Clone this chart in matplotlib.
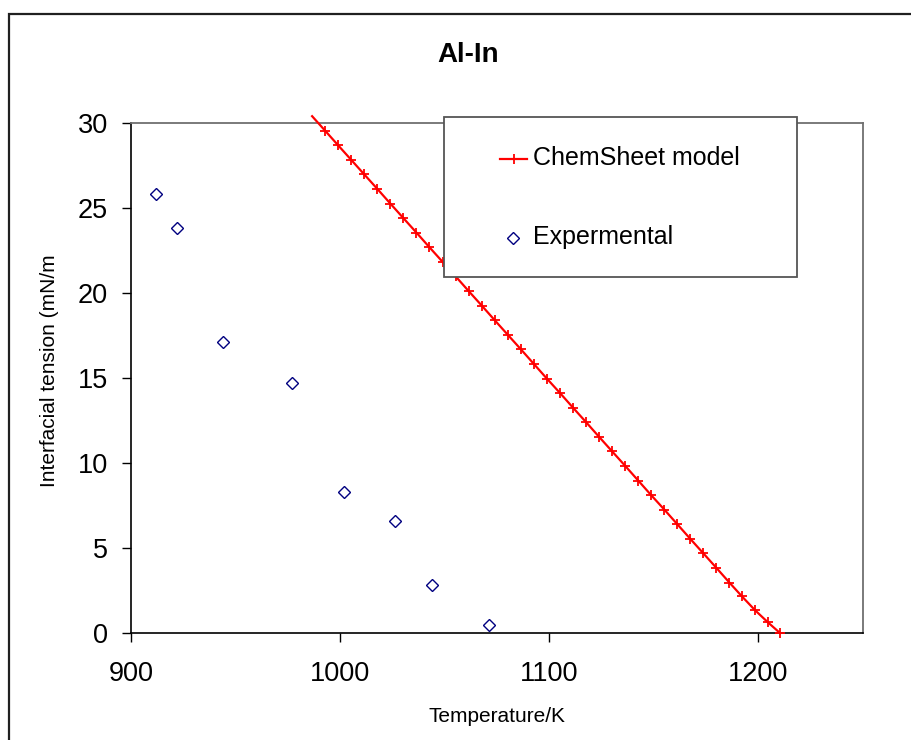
import matplotlib.pyplot as plt
from matplotlib.patches import Rectangle
from matplotlib.lines import Line2D

plt.rcParams['font.family'] = ['Liberation Sans', 'DejaVu Sans']

# ChemSheet model
model_T = [986.6, 992.8, 999.1, 1005.3, 1011.5, 1017.8, 1024.0, 1030.2, 1036.5,
           1042.7, 1049.0, 1055.2, 1061.4, 1067.7, 1073.9, 1080.1, 1086.4, 1092.6,
           1098.8, 1105.1, 1111.3, 1117.6, 1123.8, 1130.0, 1136.3, 1142.5, 1148.7,
           1155.0, 1161.2, 1167.4, 1173.7, 1179.9, 1186.1, 1192.0, 1198.3, 1204.6,
           1210.3]
model_sigma = [30.40, 29.55, 28.68, 27.83, 26.98, 26.12, 25.26, 24.41, 23.55,
               22.69, 21.83, 20.98, 20.12, 19.26, 18.40, 17.55, 16.69, 15.83,
               14.97, 14.12, 13.26, 12.40, 11.54, 10.69, 9.83, 8.97, 8.11,
               7.26, 6.40, 5.54, 4.68, 3.83, 2.97, 2.17, 1.35, 0.62,
               0.00]

# experimental points
exp_T = [912, 922, 944, 977, 1002, 1026, 1044, 1071]
exp_sigma = [25.8, 23.8, 17.1, 14.7, 8.3, 6.6, 2.8, 0.5]

x_ticks = [900, 1000, 1100, 1200]
y_ticks = [0, 5, 10, 15, 20, 25, 30]

W, H = 911, 740
fig = plt.figure(figsize=(W / 100, H / 100), dpi=100)

# outer chart border (chart continues beyond the crop)
fig.patches.append(Rectangle((9 / W, -0.1), 1.2, 1 - 14 / H + 0.1, transform=fig.transFigure,
                             fill=False, edgecolor='#202020', linewidth=1.6, zorder=0))

ax = fig.add_axes([131 / W, 1 - 633 / H, (863 - 131) / W, (633 - 123) / H])

ax.plot(model_T, model_sigma, '-', color='red', linewidth=1.6, clip_on=False, zorder=3)
ax.plot(model_T[1:], model_sigma[1:], '+', color='red', markersize=6.5,
        markeredgewidth=1.3, clip_on=False, zorder=3)
ax.plot(exp_T, exp_sigma, 'D', markerfacecolor='none', markeredgecolor='#000080',
        markersize=6, markeredgewidth=1.0, linestyle='none', zorder=3)

ax.set_xlim(900, 1250)
ax.set_ylim(0, 30)
ax.set_xticks(x_ticks)
ax.set_yticks(y_ticks)
ax.tick_params(labelsize=19.5, direction='out', length=6.5, width=1)
ax.tick_params(axis='x', pad=14)
ax.tick_params(axis='y', pad=10)

for s in ['left', 'bottom']:
    ax.spines[s].set_color('black')
    ax.spines[s].set_linewidth(1.2)
for s in ['top', 'right']:
    ax.spines[s].set_color('#707070')
    ax.spines[s].set_linewidth(1.3)

fig.text(50 / W, 1 - 371 / H, 'Interfacial tension (mN/m', rotation=90,
         ha='center', va='center', fontsize=15)
fig.text(497 / W, 1 - 717 / H, 'Temperature/K', ha='center', va='center', fontsize=15)
fig.text(468 / W, 1 - 55 / H, 'Al-In', ha='center', va='center', fontsize=20,
         fontweight='bold')

# legend box drawn by hand
fig.patches.append(Rectangle((444 / W, 1 - 277 / H), (797 - 444) / W, (277 - 117) / H,
                             transform=fig.transFigure, facecolor='white',
                             edgecolor='#555555', linewidth=1.3, zorder=5))
fig.lines.append(Line2D([500 / W, 527 / W], [1 - 159 / H, 1 - 159 / H],
                        transform=fig.transFigure, color='red', linewidth=1.6, zorder=6))
fig.lines.append(Line2D([514 / W], [1 - 159 / H], transform=fig.transFigure,
                        color='red', marker='+', markersize=6.5, markeredgewidth=1.3,
                        linestyle='none', zorder=6))
fig.lines.append(Line2D([513 / W], [1 - 238 / H], transform=fig.transFigure,
                        marker='D', markerfacecolor='none', markeredgecolor='#000080',
                        markersize=6, markeredgewidth=1.0, linestyle='none', zorder=6))
fig.text(533 / W, 1 - 158 / H, 'ChemSheet model', va='center', fontsize=18, zorder=7)
fig.text(533 / W, 1 - 237 / H, 'Expermental', va='center', fontsize=18, zorder=7)

fig.savefig('out.png', dpi=100)
